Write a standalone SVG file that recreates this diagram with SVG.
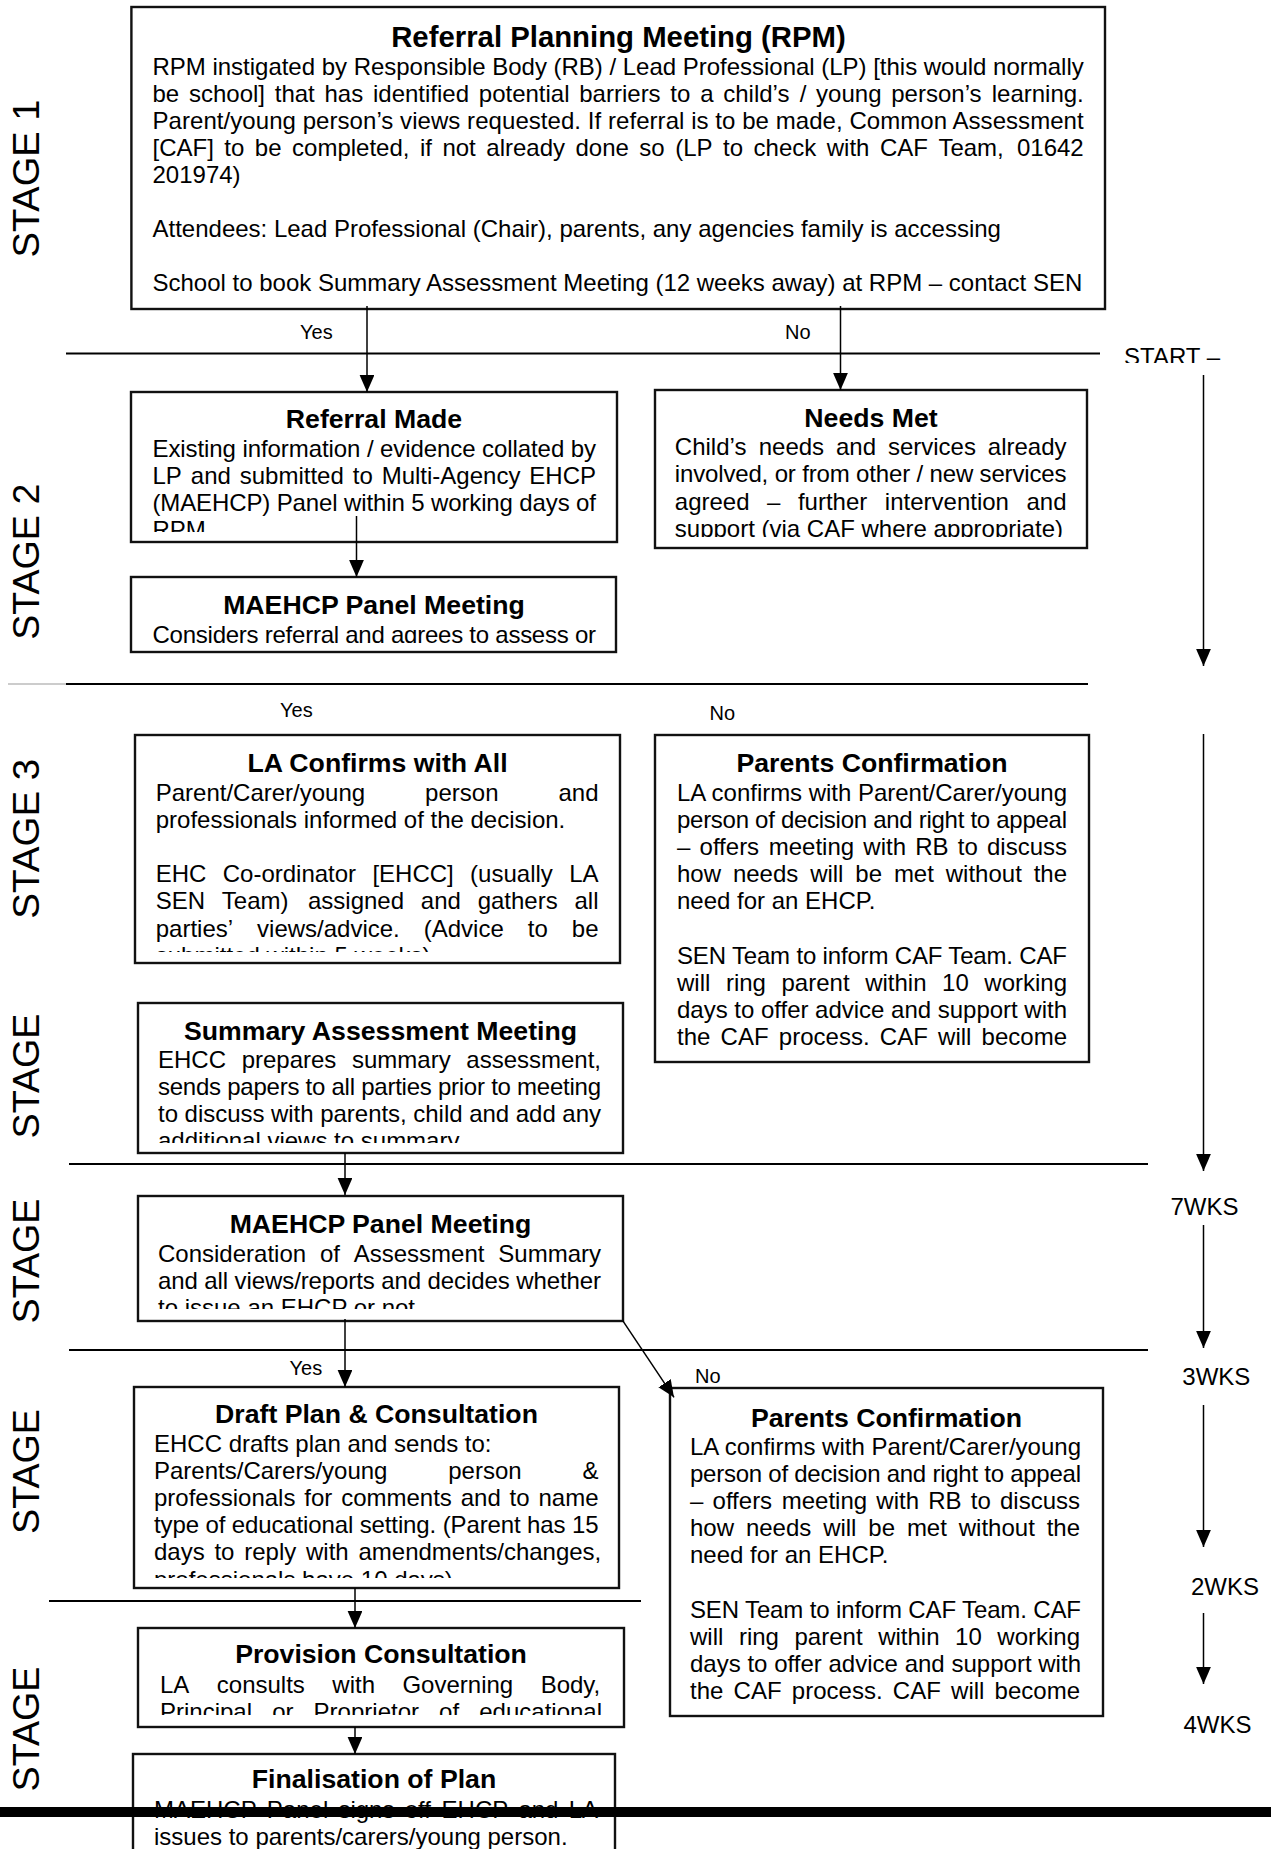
<svg xmlns="http://www.w3.org/2000/svg" width="1271" height="1849" viewBox="0 0 1271 1849">
<style>
text{font-family:"Liberation Sans",Arial,sans-serif;fill:#000}
.t{font-size:24px}
.h{font-size:26.67px;font-weight:bold;text-anchor:middle}
.h0{font-size:29.33px;font-weight:bold;text-anchor:middle}
.lb{font-size:20px}
.wk{font-size:24px}
.stg{font-size:36px;text-anchor:middle}
.bx{fill:#fff;stroke:#111;stroke-width:2.4}
.sep{stroke:#000;stroke-width:2;fill:none}
.ar{stroke:#000;stroke-width:1.5;fill:none;marker-end:url(#ah)}
</style>
<defs>
<marker id="ah" markerUnits="userSpaceOnUse" markerWidth="17" markerHeight="15" refX="17" refY="7.4" orient="auto"><path d="M0,0 L17,7.4 L0,14.8 z" fill="#000"/></marker>
<clipPath id="cRM"><rect x="131" y="392" width="486" height="140"/></clipPath>
<clipPath id="cM1"><rect x="131" y="577" width="485" height="66"/></clipPath>
<clipPath id="cNM"><rect x="655" y="390" width="432" height="147"/></clipPath>
<clipPath id="cLA"><rect x="135" y="735" width="485" height="217"/></clipPath>
<clipPath id="cSA"><rect x="138" y="1003" width="485" height="140"/></clipPath>
<clipPath id="cM2"><rect x="138" y="1196" width="485" height="113"/></clipPath>
<clipPath id="cDP"><rect x="134" y="1387" width="485" height="191"/></clipPath>
<clipPath id="cPV"><rect x="138" y="1628" width="486" height="87"/></clipPath>
<clipPath id="cST"><rect x="1100" y="330" width="171" height="33"/></clipPath>
</defs>
<rect width="1271" height="1849" fill="#fff"/>

<g id="stages">
<text class="stg" transform="translate(39,178.5) rotate(-90)" textLength="158" lengthAdjust="spacingAndGlyphs">STAGE 1</text>
<text class="stg" transform="translate(39,561.7) rotate(-90)" textLength="156" lengthAdjust="spacingAndGlyphs">STAGE 2</text>
<text class="stg" transform="translate(39,838.7) rotate(-90)" textLength="160" lengthAdjust="spacingAndGlyphs">STAGE 3</text>
<text class="stg" transform="translate(39,1076) rotate(-90)" textLength="125" lengthAdjust="spacingAndGlyphs">STAGE</text>
<text class="stg" transform="translate(39,1261) rotate(-90)" textLength="125" lengthAdjust="spacingAndGlyphs">STAGE</text>
<text class="stg" transform="translate(39,1471.5) rotate(-90)" textLength="125" lengthAdjust="spacingAndGlyphs">STAGE</text>
<text class="stg" transform="translate(39,1729) rotate(-90)" textLength="125" lengthAdjust="spacingAndGlyphs">STAGE</text>
</g>

<g id="separators">
<line class="sep" x1="66" y1="353.5" x2="1100" y2="353.5"/>
<line x1="8" y1="684" x2="66" y2="684" stroke="#bbb" stroke-width="1.5"/>
<line class="sep" x1="66" y1="684" x2="1088" y2="684"/>
<line class="sep" x1="69" y1="1164" x2="1148" y2="1164"/>
<line class="sep" x1="69" y1="1350" x2="1148" y2="1350"/>
<line class="sep" x1="49" y1="1601" x2="641" y2="1601"/>
</g>

<g id="timeline">
<text class="wk" x="1124" y="365.2" clip-path="url(#cST)">START –</text>
<text class="wk" x="1170.5" y="1215">7WKS</text>
<text class="wk" x="1182.3" y="1385">3WKS</text>
<text class="wk" x="1191" y="1595">2WKS</text>
<text class="wk" x="1183.5" y="1733">4WKS</text>
</g>

<g id="rpm">
<rect class="bx" x="131.4" y="7" width="973.6" height="302"/>
<text class="h0" x="618.5" y="47">Referral Planning Meeting (RPM)</text>
<text class="t" x="152.5" y="75.3" textLength="931.2" lengthAdjust="spacing">RPM instigated by Responsible Body (RB) / Lead Professional (LP) [this would normally</text>
<text class="t" y="102.3"><tspan x="152.5">be</tspan><tspan x="188.95">school]</tspan><tspan x="274.74">that</tspan><tspan x="324.53">has</tspan><tspan x="372.98">identified</tspan><tspan x="478.79">potential</tspan><tspan x="579.27">barriers</tspan><tspan x="670.37">to</tspan><tspan x="700.15">a</tspan><tspan x="723.25">child’s</tspan><tspan x="799.68">/</tspan><tspan x="816.11">young</tspan><tspan x="891.25">person’s</tspan><tspan x="991.71">learning.</tspan></text>
<text class="t" x="152.5" y="129.3" textLength="931.2" lengthAdjust="spacing">Parent/young person’s views requested. If referral is to be made, Common Assessment</text>
<text class="t" y="156.3"><tspan x="152.5">[CAF]</tspan><tspan x="224.34">to</tspan><tspan x="254.86">be</tspan><tspan x="292.05">completed,</tspan><tspan x="419.93">if</tspan><tspan x="442.43">not</tspan><tspan x="486.29">already</tspan><tspan x="575.49">done</tspan><tspan x="639.37">so</tspan><tspan x="675.21">(LP</tspan><tspan x="723.05">to</tspan><tspan x="753.57">check</tspan><tspan x="826.76">with</tspan><tspan x="879.93">CAF</tspan><tspan x="938.43">Team,</tspan><tspan x="1016.95">01642</tspan></text>
<text class="t" x="152.5" y="183.3">201974)</text>
<text class="t" x="152.5" y="237.3">Attendees: Lead Professional (Chair), parents, any agencies family is accessing</text>
<text class="t" x="152.5" y="291">School to book Summary Assessment Meeting (12 weeks away) at RPM – contact SEN</text>
</g>

<g id="referral-made">
<rect class="bx" x="131" y="392" width="486" height="150"/>
<text class="h" x="374" y="427.5">Referral Made</text>
<g clip-path="url(#cRM)">
<text class="t" x="152.5" y="456.5" textLength="443.5" lengthAdjust="spacing">Existing information / evidence collated by</text>
<text class="t" y="483.7"><tspan x="152.5">LP</tspan><tspan x="190.79">and</tspan><tspan x="239.76">submitted</tspan><tspan x="352.74">to</tspan><tspan x="381.7">Multi-Agency</tspan><tspan x="529.34">EHCP</tspan></text>
<text class="t" x="152.5" y="510.9" textLength="443.5" lengthAdjust="spacing">(MAEHCP) Panel within 5 working days of</text>
<text class="t" x="152.5" y="538.1">RPM</text>
</g>
</g>

<g id="needs-met">
<rect class="bx" x="655" y="390" width="432" height="158"/>
<text class="h" x="871" y="426.5">Needs Met</text>
<g clip-path="url(#cNM)">
<text class="t" y="454.5"><tspan x="674.8">Child’s</tspan><tspan x="758.7">needs</tspan><tspan x="835.98">and</tspan><tspan x="887.91">services</tspan><tspan x="987.82">already</tspan></text>
<text class="t" x="674.8" y="482" textLength="391.7" lengthAdjust="spacing">involved, or from other / new services</text>
<text class="t" y="509.5"><tspan x="674.8">agreed</tspan><tspan x="767.06">–</tspan><tspan x="797.95">further</tspan><tspan x="884.86">intervention</tspan><tspan x="1026.47">and</tspan></text>
<text class="t" x="674.8" y="537">support (via CAF where appropriate)</text>
</g>
</g>

<g id="maehcp-panel-1">
<rect class="bx" x="131" y="577" width="485" height="75"/>
<text class="h" x="374" y="614">MAEHCP Panel Meeting</text>
<g clip-path="url(#cM1)">
<text class="t" x="152.5" y="642.5" textLength="443.5" lengthAdjust="spacing">Considers referral and agrees to assess or</text>
</g>
</g>

<g id="la-confirms">
<rect class="bx" x="135" y="735" width="485" height="228"/>
<text class="h" x="377.5" y="771.5">LA Confirms with All</text>
<g clip-path="url(#cLA)">
<text class="t" y="800.5"><tspan x="155.7">Parent/Carer/young</tspan><tspan x="425.11">person</tspan><tspan x="558.47">and</tspan></text>
<text class="t" x="155.7" y="827.7">professionals informed of the decision.</text>
<text class="t" y="882.1"><tspan x="155.7">EHC</tspan><tspan x="222.71">Co-ordinator</tspan><tspan x="372.43">[EHCC]</tspan><tspan x="470.12">(usually</tspan><tspan x="569.15">LA</tspan></text>
<text class="t" y="909.3"><tspan x="155.7">SEN</tspan><tspan x="221.84">Team)</tspan><tspan x="307.98">assigned</tspan><tspan x="420.83">and</tspan><tspan x="477.66">gathers</tspan><tspan x="574.5">all</tspan></text>
<text class="t" y="936.5"><tspan x="155.7">parties’</tspan><tspan x="257.05">views/advice.</tspan><tspan x="423.75">(Advice</tspan><tspan x="527.77">to</tspan><tspan x="571.79">be</tspan></text>
<text class="t" x="155.7" y="963.7">submitted within 5 weeks)</text>
</g>
</g>

<g id="parents-confirmation-1">
<rect class="bx" x="655" y="735" width="434" height="327"/>
<text class="h" x="872" y="771.5">Parents Confirmation</text>
<text class="t" x="677" y="800.5" textLength="390" lengthAdjust="spacing">LA confirms with Parent/Carer/young</text>
<text class="t" x="677" y="827.7" textLength="390" lengthAdjust="spacing">person of decision and right to appeal</text>
<text class="t" y="854.9"><tspan x="677">–</tspan><tspan x="699.54">offers</tspan><tspan x="768.76">meeting</tspan><tspan x="863.33">with</tspan><tspan x="915.2">RB</tspan><tspan x="957.74">to</tspan><tspan x="986.96">discuss</tspan></text>
<text class="t" y="882.1"><tspan x="677">how</tspan><tspan x="732.89">needs</tspan><tspan x="810.14">will</tspan><tspan x="855.32">be</tspan><tspan x="893.88">met</tspan><tspan x="945.76">without</tspan><tspan x="1033.66">the</tspan></text>
<text class="t" x="677" y="909.3">need for an EHCP.</text>
<text class="t" x="677" y="963.7" textLength="390" lengthAdjust="spacing">SEN Team to inform CAF Team. CAF</text>
<text class="t" y="990.9"><tspan x="677">will</tspan><tspan x="725.9">ring</tspan><tspan x="781.5">parent</tspan><tspan x="865.13">within</tspan><tspan x="942.06">10</tspan><tspan x="984.34">working</tspan></text>
<text class="t" x="677" y="1018.1" textLength="390" lengthAdjust="spacing">days to offer advice and support with</text>
<text class="t" y="1045.3"><tspan x="677">the</tspan><tspan x="720.61">CAF</tspan><tspan x="778.86">process.</tspan><tspan x="879.81">CAF</tspan><tspan x="938.06">will</tspan><tspan x="981.62">become</tspan></text>
</g>

<g id="summary-assessment">
<rect class="bx" x="138" y="1003" width="485" height="150"/>
<text class="h" x="380.5" y="1039.5">Summary Assessment Meeting</text>
<g clip-path="url(#cSA)">
<text class="t" y="1067.5"><tspan x="158">EHCC</tspan><tspan x="241.64">prepares</tspan><tspan x="351.99">summary</tspan><tspan x="466.3">assessment,</tspan></text>
<text class="t" x="158" y="1094.7" textLength="443" lengthAdjust="spacing">sends papers to all parties prior to meeting</text>
<text class="t" x="158" y="1121.9" textLength="443" lengthAdjust="spacing">to discuss with parents, child and add any</text>
<text class="t" x="158" y="1149.1">additional views to summary</text>
</g>
</g>

<g id="maehcp-panel-2">
<rect class="bx" x="138" y="1196" width="485" height="125"/>
<text class="h" x="380.5" y="1232.5">MAEHCP Panel Meeting</text>
<g clip-path="url(#cM2)">
<text class="t" y="1261.5"><tspan x="158">Consideration</tspan><tspan x="319.91">of</tspan><tspan x="353.78">Assessment</tspan><tspan x="498.33">Summary</tspan></text>
<text class="t" x="158" y="1288.7" textLength="443" lengthAdjust="spacing">and all views/reports and decides whether</text>
<text class="t" x="158" y="1315.9">to issue an EHCP or not</text>
</g>
</g>

<g id="draft-plan">
<rect class="bx" x="134" y="1387" width="485" height="201"/>
<text class="h" x="376.5" y="1422.5">Draft Plan &amp; Consultation</text>
<g clip-path="url(#cDP)">
<text class="t" x="154" y="1451.5">EHCC drafts plan and sends to:</text>
<text class="t" y="1478.7"><tspan x="154">Parents/Carers/young</tspan><tspan x="448.27">person</tspan><tspan x="582.49">&amp;</tspan></text>
<text class="t" y="1505.9"><tspan x="154">professionals</tspan><tspan x="304.25">for</tspan><tspan x="341.13">comments</tspan><tspan x="460.69">and</tspan><tspan x="509.59">to</tspan><tspan x="538.48">name</tspan></text>
<text class="t" x="154" y="1533.1" textLength="444.5" lengthAdjust="spacing">type of educational setting. (Parent has 15</text>
<text class="t" y="1560.3"><tspan x="154">days</tspan><tspan x="214.46">to</tspan><tspan x="244.25">reply</tspan><tspan x="306.03">with</tspan><tspan x="358.47">amendments/changes,</tspan></text>
<text class="t" x="154" y="1587.5">professionals have 10 days)</text>
</g>
</g>

<g id="parents-confirmation-2">
<rect class="bx" x="670" y="1388" width="433" height="328"/>
<text class="h" x="886.5" y="1426.5">Parents Confirmation</text>
<text class="t" x="690" y="1454.5" textLength="391" lengthAdjust="spacing">LA confirms with Parent/Carer/young</text>
<text class="t" x="690" y="1481.7" textLength="391" lengthAdjust="spacing">person of decision and right to appeal</text>
<text class="t" y="1508.9"><tspan x="690">–</tspan><tspan x="712.54">offers</tspan><tspan x="781.76">meeting</tspan><tspan x="876.33">with</tspan><tspan x="928.2">RB</tspan><tspan x="970.74">to</tspan><tspan x="999.96">discuss</tspan></text>
<text class="t" y="1536.1"><tspan x="690">how</tspan><tspan x="745.89">needs</tspan><tspan x="823.14">will</tspan><tspan x="868.32">be</tspan><tspan x="906.88">met</tspan><tspan x="958.76">without</tspan><tspan x="1046.66">the</tspan></text>
<text class="t" x="690" y="1563.3">need for an EHCP.</text>
<text class="t" x="690" y="1617.7" textLength="391" lengthAdjust="spacing">SEN Team to inform CAF Team. CAF</text>
<text class="t" y="1644.9"><tspan x="690">will</tspan><tspan x="738.9">ring</tspan><tspan x="794.5">parent</tspan><tspan x="878.13">within</tspan><tspan x="955.06">10</tspan><tspan x="997.34">working</tspan></text>
<text class="t" x="690" y="1672.1" textLength="391" lengthAdjust="spacing">days to offer advice and support with</text>
<text class="t" y="1699.3"><tspan x="690">the</tspan><tspan x="733.61">CAF</tspan><tspan x="791.86">process.</tspan><tspan x="892.81">CAF</tspan><tspan x="951.06">will</tspan><tspan x="994.62">become</tspan></text>
</g>

<g id="provision-consultation">
<rect class="bx" x="138" y="1628" width="486" height="99"/>
<text class="h" x="381" y="1662.5">Provision Consultation</text>
<g clip-path="url(#cPV)">
<text class="t" y="1692.5"><tspan x="160">LA</tspan><tspan x="216.82">consults</tspan><tspan x="332.32">with</tspan><tspan x="402.46">Governing</tspan><tspan x="540.64">Body,</tspan></text>
<text class="t" y="1719.7"><tspan x="160">Principal</tspan><tspan x="272.15">or</tspan><tspan x="313.62">Proprietor</tspan><tspan x="439.11">of</tspan><tspan x="479.26">educational</tspan></text>
</g>
</g>

<g id="finalisation">
<rect class="bx" x="133" y="1754" width="482" height="110"/>
<text class="h" x="374" y="1787.5">Finalisation of Plan</text>
<text class="t" y="1818"><tspan x="154">MAEHCP</tspan><tspan x="266.87">Panel</tspan><tspan x="338.44">signs</tspan><tspan x="404.66">off</tspan><tspan x="441.55">EHCP</tspan><tspan x="518.42">and</tspan><tspan x="568.65">LA</tspan></text>
<text class="t" x="154" y="1845">issues to parents/carers/young person.</text>
</g>

<g id="labels">
<text class="lb" x="300" y="338.5">Yes</text>
<text class="lb" x="785" y="338.5">No</text>
<text class="lb" x="280" y="717">Yes</text>
<text class="lb" x="709.6" y="720">No</text>
<text class="lb" x="289.5" y="1375">Yes</text>
<text class="lb" x="695" y="1382.5">No</text>
</g>

<g id="connectors">
<line class="ar" x1="367" y1="306" x2="367" y2="392"/>
<line class="ar" x1="840.5" y1="306" x2="840.5" y2="390"/>
<line class="ar" x1="356.5" y1="516" x2="356.5" y2="577"/>
<line class="ar" x1="345" y1="1153" x2="345" y2="1195"/>
<line class="ar" x1="345" y1="1319" x2="345" y2="1387"/>
<line class="ar" x1="622.7" y1="1320.7" x2="674" y2="1397.3"/>
<line class="ar" x1="355" y1="1588" x2="355" y2="1628"/>
<line class="ar" x1="355" y1="1727" x2="355" y2="1754"/>
<line class="ar" x1="1203.5" y1="375" x2="1203.5" y2="666"/>
<line class="ar" x1="1203.5" y1="734" x2="1203.5" y2="1171"/>
<line class="ar" x1="1203.5" y1="1225" x2="1203.5" y2="1348"/>
<line class="ar" x1="1203.5" y1="1405" x2="1203.5" y2="1547"/>
<line class="ar" x1="1203.5" y1="1613" x2="1203.5" y2="1684"/>
</g>

<rect id="bottom-bar" x="0" y="1807" width="1271" height="10" fill="#000"/>
</svg>
